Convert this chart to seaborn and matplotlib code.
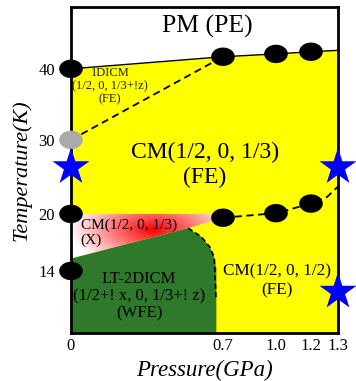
import numpy as np
import matplotlib
matplotlib.use("Agg")
import matplotlib.pyplot as plt
import seaborn as sns
from matplotlib.colors import LinearSegmentedColormap

# ---- data (schematic P-T phase diagram) ----
p_ticks = [0, 0.7, 1.0, 1.2, 1.3]
p_labels = ["0", "0.7", "1.0", "1.2", "1.3"]
t_ticks = [14, 20, 30, 40]
t_labels = ["14", "20", "30", "40"]

# PM/CM boundary (solid line) and measured points
tc_p = [0, 0.7, 1.0, 1.2, 1.3]
tc_t = [40, 41.7, 42.1, 42.4, 42.6]
tc_dot_p = [0, 0.7, 1.0, 1.2]
tc_dot_t = [40, 41.7, 42.1, 42.4]

# 1DICM / CM boundary (dashed)
icm_p = [0, 0.7]
icm_t = [30, 41.7]

# CM(1/3) / CM(1/2) boundary (dashed) and points
low_p = [0.7, 1.0, 1.2, 1.26, 1.3]
low_t = [19.6, 20.1, 21.4, 22.3, 23.7]
low_dot_p = [0, 0, 0.7, 1.0, 1.2]
low_dot_t = [20, 14, 19.6, 20.1, 21.4]

# LT-2DICM region
green_p = [0, 0.54, 0.6, 0.64, 0.66, 0.668, 0.668, 0]
green_t = [15.3, 18.5, 17.6, 16.5, 15.4, 14.4, 0, 0]
green_edge_p = [0.54, 0.6, 0.64, 0.66, 0.668, 0.668]
green_edge_t = [18.5, 17.6, 16.5, 15.4, 14.4, 0]

# CM(1/2,0,1/3)(X) region
pink_p = [0, 0.68, 0.7, 0.54, 0]
pink_t = [20, 20, 19.6, 18.5, 15.3]

# gray point, blue stars
gray_p = [0]
gray_t = [30]
star_p = [0, 1.3, 1.3]
star_t = [26.3, 26.3, 9.3]

# non-linear schematic axes (relative pixel spacing)
p_pos = [0, 152, 205, 240, 267]
t_grid = [0, 14, 20, 30, 40, 50]
t_pos = [0, 62, 119, 193, 264, 335]


def fwd_p(x):
    return np.interp(x, p_ticks, p_pos)


def inv_p(x):
    return np.interp(x, p_pos, p_ticks)


def fwd_t(y):
    return np.interp(y, t_grid, t_pos)


def inv_t(y):
    return np.interp(y, t_pos, t_grid)


sns.set_theme(style="white")
plt.rcParams["font.family"] = ["Liberation Serif", "DejaVu Serif"]
plt.rcParams["text.color"] = "black"
plt.rcParams["axes.labelcolor"] = "black"

fig = plt.figure(figsize=(3.56, 3.81), dpi=100)
ax = fig.add_axes([0.1994, 0.126, 0.7500, 0.8556])
ax.set_xscale("function", functions=(fwd_p, inv_p))
ax.set_yscale("function", functions=(fwd_t, inv_t))

# yellow CM phase
ax.fill_between(tc_p, 0, tc_t, color="#ffff00", lw=0, zorder=1)

# pink/red gradient region
pink = ax.fill(pink_p, pink_t, color="none", lw=0, zorder=2)[0]
H, W = 326, 267
yy, xx = np.mgrid[0:H, 0:W]
d = np.hypot(xx - 82, (yy - 103) * 2.2)
inten = np.clip(1 - d / 85, 0, 1)
cmap = LinearSegmentedColormap.from_list("wr", ["#ffffff", "#ff0000"])
im = ax.imshow(inten, extent=[0, 1, 0, 1], transform=ax.transAxes, origin="lower",
               cmap=cmap, vmin=0, vmax=1, aspect="auto", zorder=2)
im.set_clip_path(pink)

# green LT-2DICM
ax.fill(green_p, green_t, color="#2f7a2a", lw=0, zorder=3)
sns.lineplot(x=green_edge_p, y=green_edge_t, sort=False, color="black", lw=1.2,
             ls=(0, (3, 2)), ax=ax, zorder=4)

# boundaries
sns.lineplot(x=tc_p, y=tc_t, sort=False, color="black", lw=1.0, ax=ax, zorder=4)
sns.lineplot(x=icm_p, y=icm_t, sort=False, color="black", lw=1.3,
             ls=(0, (4, 2.5)), ax=ax, zorder=4)
sns.lineplot(x=low_p, y=low_t, sort=False, color="black", lw=1.3,
             ls=(0, (4, 2.5)), ax=ax, zorder=4)

# points
th = np.linspace(0, 2 * np.pi, 60)
ell = np.column_stack([np.cos(th), 0.78 * np.sin(th)])
sns.scatterplot(x=tc_dot_p + low_dot_p, y=tc_dot_t + low_dot_t, marker=ell, s=17 ** 2,
                color="black", edgecolor="none", ax=ax, zorder=6, clip_on=False)
sns.scatterplot(x=gray_p, y=gray_t, marker=ell, s=17 ** 2, color="#aaaaaa",
                edgecolor="none", ax=ax, zorder=6, clip_on=False)
sns.scatterplot(x=star_p, y=star_t, marker="*", s=28 ** 2, color="#0000ff",
                edgecolor="none", ax=ax, zorder=7, clip_on=False)

# labels
ax.text(0.51, 0.939, "PM (PE)", transform=ax.transAxes, ha="center", va="center",
        fontsize=18.5, zorder=8)
ax.text(0.502, 0.515, "CM(1/2, 0, 1/3)\n(FE)", transform=ax.transAxes, ha="center",
        va="center", fontsize=17, linespacing=1.25, zorder=8)
ax.text(0.146, 0.758, "1DICM\n(1/2, 0, 1/3+!z)\n(FE)", transform=ax.transAxes,
        ha="center", va="center", fontsize=9, linespacing=1.15, color="#222200", zorder=8)
ax.text(0.037, 0.307, "CM(1/2, 0, 1/3)\n(X)", transform=ax.transAxes, ha="left",
        va="center", fontsize=11, linespacing=1.18, zorder=8)
ax.text(0.255, 0.113, "LT-2DICM\n(1/2+! x, 0, 1/3+! z)\n(WFE)", transform=ax.transAxes,
        ha="center", va="center", fontsize=12, linespacing=1.1, zorder=8)
ax.text(0.772, 0.16, "CM(1/2, 0, 1/2)\n(FE)", transform=ax.transAxes, ha="center",
        va="center", fontsize=12.3, linespacing=1.3, zorder=8)

ax.set_xlim(0, 1.3)
ax.set_ylim(0, 48.7)
ax.set_xticks(p_ticks)
ax.set_xticklabels(p_labels)
ax.set_yticks(t_ticks)
ax.set_yticklabels(t_labels)
ax.tick_params(axis="both", length=0, labelsize=12, colors="black")
ax.tick_params(axis="x", pad=3.5)
ax.tick_params(axis="y", pad=11.5)
ax.set_xlabel("Pressure(GPa)", fontsize=16.5, style="italic", labelpad=4)
ax.set_ylabel("Temperature(K)", fontsize=16, style="italic", labelpad=5)
for s in ax.spines.values():
    s.set_color("black")
    s.set_linewidth(2)
    s.set_zorder(5)

fig.savefig("out.png", dpi=100)
